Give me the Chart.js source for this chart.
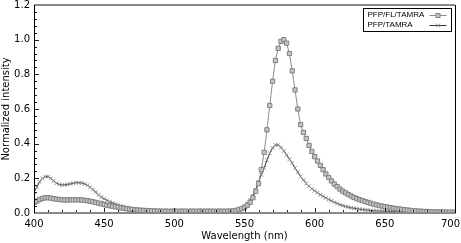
<!DOCTYPE html>
<html>
<head>
<meta charset="utf-8">
<script src="https://cdn.jsdelivr.net/npm/chart.js@4"></script>
<style>
  html, body { margin: 0; padding: 0; background: #fff; }
  #wrap { width: 461px; height: 243px; }
</style>
</head>
<body>
<div id="wrap"><canvas id="spectra"></canvas></div>
<script>
// Wavelength axis (nm), read every 2 nm
var wavelength = [
  400,402,404,406,408,410,412,414,416,418,420,422,424,426,428,430,432,434,436,438,
  440,442,444,446,448,450,452,454,456,458,460,462,464,466,468,470,472,474,476,478,
  480,482,484,486,488,490,492,494,496,498,500,502,504,506,508,510,512,514,516,518,
  520,522,524,526,528,530,532,534,536,538,540,542,544,546,548,550,552,554,556,558,
  560,562,564,566,568,570,572,574,576,578,580,582,584,586,588,590,592,594,596,598,
  600,602,604,606,608,610,612,614,616,618,620,622,624,626,628,630,632,634,636,638,
  640,642,644,646,648,650,652,654,656,658,660,662,664,666,668,670,672,674,676,678,
  680,682,684,686,688,690,692,694,696,698,700
];

// PFP/FL/TAMRA (squares)
var flTamra = [
  0.060,0.068,0.078,0.084,0.088,0.088,0.086,0.083,0.080,0.078,0.076,0.075,0.075,0.076,0.076,0.076,0.076,0.075,0.073,0.071,
  0.068,0.065,0.061,0.057,0.053,0.049,0.045,0.042,0.039,0.036,0.033,0.030,0.027,0.025,0.022,0.020,0.019,0.017,0.016,0.015,
  0.014,0.013,0.012,0.012,0.011,0.011,0.010,0.011,0.010,0.010,0.011,0.010,0.010,0.011,0.010,0.010,0.011,0.010,0.010,0.011,
  0.010,0.010,0.011,0.010,0.010,0.010,0.011,0.010,0.010,0.011,0.011,0.012,0.015,0.019,0.025,0.033,0.045,0.062,0.088,0.125,
  0.170,0.250,0.350,0.480,0.620,0.760,0.880,0.950,0.990,1.000,0.980,0.920,0.820,0.710,0.600,0.510,0.465,0.430,0.390,0.355,
  0.325,0.300,0.275,0.250,0.225,0.205,0.185,0.167,0.152,0.138,0.126,0.116,0.107,0.098,0.090,0.083,0.077,0.071,0.066,0.061,
  0.056,0.051,0.047,0.043,0.040,0.037,0.034,0.031,0.028,0.025,0.023,0.021,0.019,0.017,0.015,0.013,0.012,0.011,0.010,0.009,
  0.008,0.007,0.007,0.006,0.006,0.006,0.005,0.005,0.005,0.005,0.005
];

// PFP/TAMRA (crosses)
var pfpTamra = [
  0.120,0.150,0.180,0.200,0.210,0.210,0.200,0.185,0.172,0.165,0.162,0.163,0.165,0.168,0.172,0.175,0.175,0.173,0.168,0.160,
  0.148,0.135,0.120,0.105,0.092,0.082,0.073,0.065,0.058,0.052,0.046,0.041,0.036,0.032,0.028,0.025,0.022,0.020,0.018,0.016,
  0.014,0.013,0.012,0.012,0.011,0.011,0.012,0.011,0.010,0.011,0.012,0.011,0.010,0.011,0.011,0.010,0.012,0.011,0.010,0.011,
  0.011,0.010,0.011,0.012,0.010,0.011,0.011,0.010,0.011,0.012,0.012,0.014,0.018,0.023,0.030,0.040,0.055,0.075,0.100,0.135,
  0.180,0.220,0.260,0.305,0.345,0.375,0.393,0.392,0.378,0.358,0.335,0.310,0.288,0.260,0.235,0.210,0.190,0.170,0.155,0.140,
  0.128,0.117,0.106,0.096,0.087,0.078,0.070,0.062,0.055,0.048,0.043,0.038,0.034,0.030,0.027,0.025,0.022,0.020,0.018,0.016,
  0.014,0.013,0.012,0.011,0.011,0.010,0.010,0.009,0.009,0.008,0.008,0.008,0.007,0.007,0.007,0.006,0.006,0.006,0.006,0.006,
  0.005,0.005,0.005,0.005,0.005,0.005,0.005,0.005,0.005,0.005,0.005
];

var seriesNames = ['PFP/FL/TAMRA', 'PFP/TAMRA'];
var xTicks = [400, 450, 500, 550, 600, 650, 700];
var yTicks = [0.0, 0.2, 0.4, 0.6, 0.8, 1.0, 1.2];

function toPoints(ys) {
  return wavelength.map(function (w, i) { return { x: w, y: ys[i] }; });
}

var FONT = '"DejaVu Sans", Verdana, sans-serif';

// frame, inner tick marks, x labels and the boxed legend
var framePlugin = {
  id: 'frame',
  afterDatasetsDraw: function (chart) {
    var ctx = chart.ctx;
    var a = chart.chartArea;
    var xs = chart.scales.x, ys = chart.scales.y;
    ctx.save();

    // minor + major ticks, pointing inward
    ctx.strokeStyle = '#222';
    ctx.lineWidth = 1;
    ctx.beginPath();
    for (var w = 410; w < 700; w += 10) {
      var px = Math.round(xs.getPixelForValue(w)) + 0.5;
      var len = (w % 50 === 0) ? 5 : 3;
      ctx.moveTo(px, a.bottom);
      ctx.lineTo(px, a.bottom - len);
    }
    for (var k = 1; k < 30; k++) {
      var v = k * 0.04;
      var py = Math.round(ys.getPixelForValue(v)) + 0.5;
      var l2 = (k % 5 === 0) ? 5 : 3;
      ctx.moveTo(a.left, py);
      ctx.lineTo(a.left + l2, py);
    }
    ctx.stroke();

    // axes box
    ctx.lineWidth = 2;
    ctx.strokeStyle = '#8a8a8a';
    ctx.beginPath();
    ctx.moveTo(a.left, a.top); ctx.lineTo(a.right, a.top);
    ctx.moveTo(a.left, a.bottom); ctx.lineTo(a.right + 1, a.bottom);
    ctx.stroke();
    ctx.lineWidth = 1;
    ctx.strokeStyle = '#000';
    ctx.beginPath();
    ctx.moveTo(a.left + 0.5, a.top); ctx.lineTo(a.left + 0.5, a.bottom);
    ctx.moveTo(a.right + 0.5, a.top); ctx.lineTo(a.right + 0.5, a.bottom);
    ctx.stroke();

    // x tick labels, kept inside the canvas
    ctx.font = '10px ' + FONT;
    ctx.fillStyle = '#000';
    ctx.textBaseline = 'middle';
    ctx.textAlign = 'center';
    xTicks.forEach(function (t) {
      var txt = String(t);
      var half = ctx.measureText(txt).width / 2;
      var cx = xs.getPixelForValue(t);
      cx = Math.min(cx, chart.width - 1 - half);
      ctx.fillText(txt, cx, a.bottom + 11);
    });

    // legend
    var bx = 363.5, by = 8.5, bw = 88, bh = 23;
    ctx.fillStyle = '#fff';
    ctx.fillRect(bx, by, bw, bh);
    ctx.strokeStyle = '#000';
    ctx.strokeRect(bx, by, bw, bh);
    ctx.font = '8px "Liberation Sans", Arial, sans-serif';
    ctx.fillStyle = '#000';
    ctx.textAlign = 'left';
    chart.data.datasets.forEach(function (ds, i) {
      var ty = by + 6.5 + i * 10;
      ctx.fillText(ds.label, bx + 4, ty);
      ctx.strokeStyle = ds.borderColor;
      ctx.lineWidth = 1;
      ctx.beginPath();
      ctx.moveTo(bx + 66, Math.round(ty) + 0.5);
      ctx.lineTo(bx + 83, Math.round(ty) + 0.5);
      ctx.stroke();
      ctx.strokeStyle = ds.pointBorderColor;
      ctx.beginPath();
      var cx = bx + 74.5, cy = Math.round(ty) + 0.5;
      if (ds.pointStyle === 'rect') {
        ctx.fillStyle = ds.pointBackgroundColor;
        ctx.fillRect(cx - 2, cy - 2, 4, 4);
        ctx.strokeRect(cx - 2, cy - 2, 4, 4);
      } else {
        ctx.moveTo(cx - 2, cy - 2); ctx.lineTo(cx + 2, cy + 2);
        ctx.moveTo(cx + 2, cy - 2); ctx.lineTo(cx - 2, cy + 2);
        ctx.stroke();
      }
      ctx.fillStyle = '#000';
    });
    ctx.restore();
  }
};

var chart = new Chart(document.getElementById('spectra'), {
  type: 'line',
  data: {
    datasets: [
      {
        label: seriesNames[0],
        data: toPoints(flTamra),
        borderColor: '#8c8c8c',
        borderWidth: 1,
        pointStyle: 'rect',
        pointRadius: 3,
        pointBorderWidth: 1,
        pointBorderColor: '#808080',
        pointBackgroundColor: '#c4c4c4',
        tension: 0
      },
      {
        label: seriesNames[1],
        data: toPoints(pfpTamra),
        borderColor: '#333333',
        borderWidth: 1,
        pointStyle: 'crossRot',
        pointRadius: 2.6,
        pointBorderWidth: 1,
        pointBorderColor: '#8c8c8c',
        tension: 0
      }
    ]
  },
  options: {
    responsive: true,
    maintainAspectRatio: false,
    animation: false,
    layout: { padding: { left: 0, right: 6, top: 5, bottom: 0 } },
    plugins: { legend: { display: false }, tooltip: { enabled: false } },
    scales: {
      x: {
        type: 'linear',
        min: 400, max: 700,
        afterFit: function (s) { s.height = 30; s.paddingLeft = 0; s.paddingRight = 0; },
        grid: { display: false, drawTicks: false },
        border: { display: false },
        ticks: { display: false },
        title: { display: true, text: 'Wavelength (nm)', color: '#000', padding: { top: 0, bottom: 1 }, font: { family: FONT, size: 10 } }
      },
      y: {
        min: 0, max: 1.2,
        afterFit: function (s) { s.width = 34; s.paddingTop = 0; s.paddingBottom = 0; },
        afterBuildTicks: function (s) { s.ticks = yTicks.map(function (v) { return { value: v }; }); },
        grid: { display: false, drawTicks: false },
        border: { display: false },
        ticks: {
          color: '#000', padding: 4, font: { family: FONT, size: 10 },
          callback: function (v) { return Number(v).toFixed(1); }
        },
        title: { display: true, text: 'Normalized intensity', color: '#000', padding: { top: 0, bottom: 0 }, font: { family: FONT, size: 10 } }
      }
    }
  },
  plugins: [framePlugin]
});
</script>
</body>
</html>
